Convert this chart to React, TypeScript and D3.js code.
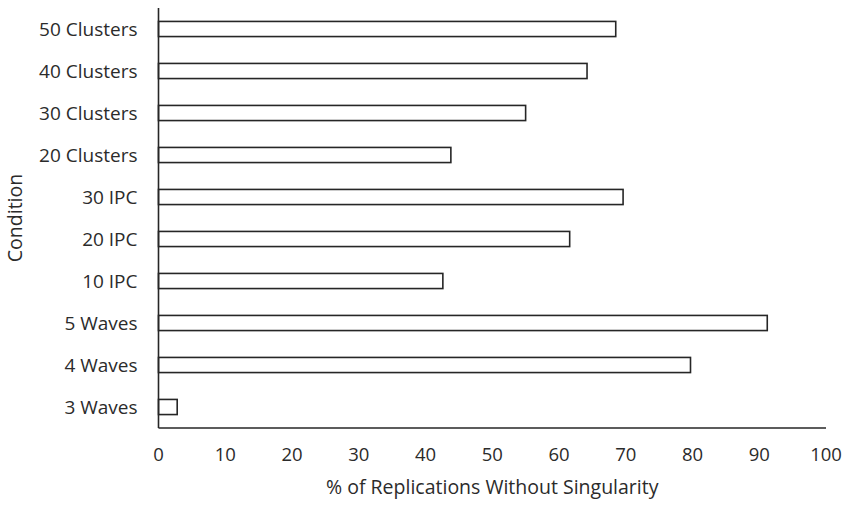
import * as d3 from "d3";

const CATEGORIES = [
  "50 Clusters",
  "40 Clusters",
  "30 Clusters",
  "20 Clusters",
  "30 IPC",
  "20 IPC",
  "10 IPC",
  "5 Waves",
  "4 Waves",
  "3 Waves",
];
const VALUES = [68.5, 64.2, 55.0, 43.8, 69.6, 61.6, 42.6, 91.2, 79.7, 2.8];
const X_TICKS = [0, 10, 20, 30, 40, 50, 60, 70, 80, 90, 100];

const WIDTH = 850;
const HEIGHT = 505;
const FONT = "'Open Sans', 'Noto Sans', sans-serif";
const INK = "#262626";
const TEXT = "#2b2b2b";

export default function App() {
  const margin = { top: 8, right: 24, bottom: 77, left: 158.5 };
  const innerW = WIDTH - margin.left - margin.right;
  const innerH = HEIGHT - margin.top - margin.bottom;

  const x = d3.scaleLinear().domain([0, 100]).range([0, innerW]);
  const y = d3.scaleBand().domain(CATEGORIES).range([0, innerH]).paddingInner(0.64).paddingOuter(0.32);

  return (
    <div style={{ position: "fixed", left: 0, top: 0, background: "#fff" }}>
      <svg width={WIDTH} height={HEIGHT} style={{ display: "block" }}>
        <rect width={WIDTH} height={HEIGHT} fill="#fff" />
        <g transform={`translate(${margin.left},${margin.top})`}>
          {/* bars */}
          {CATEGORIES.map((c, i) => (
            <rect
              key={c}
              x={x(0)}
              y={y(c)!}
              width={x(VALUES[i]) - x(0)}
              height={y.bandwidth()}
              fill="#fff"
              stroke={INK}
              strokeWidth={1.6}
            />
          ))}

          {/* axes */}
          <line x1={0} x2={0} y1={0} y2={innerH} stroke={INK} strokeWidth={1.6} />
          <line x1={0} x2={innerW} y1={innerH} y2={innerH} stroke={INK} strokeWidth={1.6} />

          {/* category labels */}
          {CATEGORIES.map((c) => (
            <text
              key={c}
              x={-21}
              y={y(c)! + y.bandwidth() / 2}
              dy="0.35em"
              textAnchor="end"
              fontFamily={FONT}
              fontSize={19}
              fill={TEXT}
            >
              {c}
            </text>
          ))}

          {/* x tick labels */}
          {X_TICKS.map((t) => (
            <text
              key={t}
              x={x(t)}
              y={innerH + 27}
              dy="0.35em"
              textAnchor="middle"
              fontFamily={FONT}
              fontSize={18.5}
              fill={TEXT}
            >
              {t}
            </text>
          ))}

          {/* axis titles */}
          <text
            x={innerW / 2}
            y={innerH + 59}
            dy="0.35em"
            textAnchor="middle"
            fontFamily={FONT}
            fontSize={19.5}
            fill={TEXT}
          >
            % of Replications Without Singularity
          </text>
          <text
            transform={`translate(${-143},${innerH / 2}) rotate(-90)`}
            dy="0.35em"
            textAnchor="middle"
            fontFamily={FONT}
            fontSize={19.5}
            fill={TEXT}
          >
            Condition
          </text>
        </g>
      </svg>
    </div>
  );
}
